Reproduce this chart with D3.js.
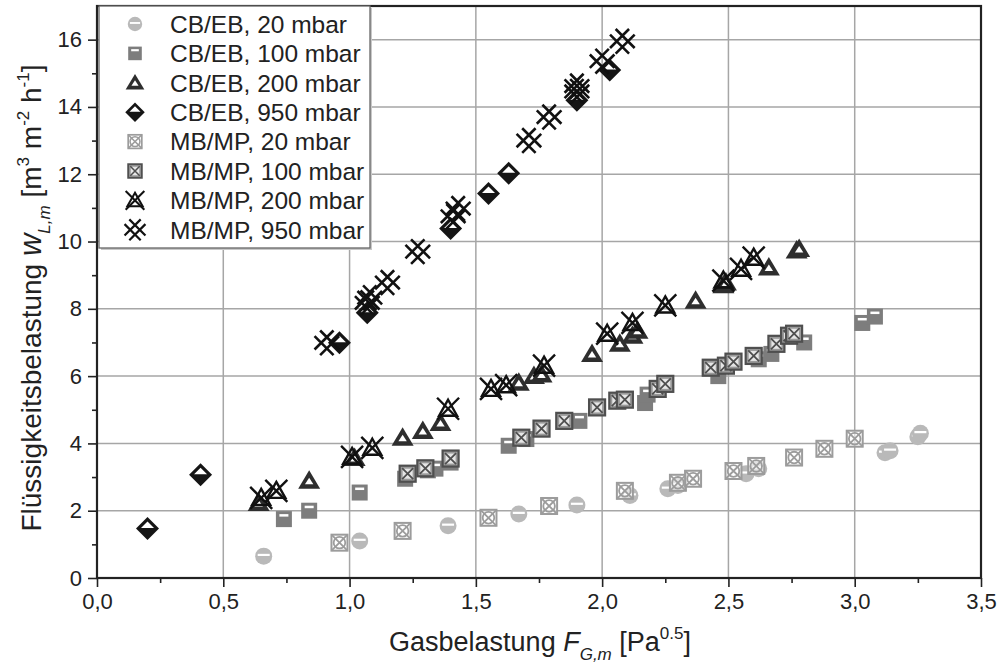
<!DOCTYPE html>
<html>
<head>
<meta charset="utf-8">
<script src="https://cdn.jsdelivr.net/npm/d3@7"></script>
<style>
  html, body { margin: 0; padding: 0; background: #ffffff; }
  svg { display: block; font-family: "Liberation Sans", Arial, sans-serif; }
</style>
</head>
<body>
<svg id="chart" width="998" height="664"></svg>
<script>
// Liquid load vs. gas load, CB/EB and MB/MP packings at four pressures
const xTicks = [0, 0.5, 1.0, 1.5, 2.0, 2.5, 3.0, 3.5];
const yTicks = [0, 2, 4, 6, 8, 10, 12, 14, 16];

const cbeb20X = [0.66, 1.04, 1.39, 1.67, 1.90, 2.11, 2.26, 2.30, 2.57, 2.62, 3.12, 3.14, 3.25, 3.26];
const cbeb20Y = [0.65, 1.10, 1.55, 1.90, 2.17, 2.45, 2.65, 2.75, 3.10, 3.25, 3.72, 3.78, 4.20, 4.30];

const cbeb100X = [0.74, 0.84, 1.04, 1.22, 1.31, 1.34, 1.40, 1.63, 1.70, 1.91, 2.17, 2.18, 2.46, 2.62, 2.67, 2.80, 3.03, 3.08];
const cbeb100Y = [1.75, 2.00, 2.54, 2.95, 3.20, 3.25, 3.43, 3.93, 4.13, 4.67, 5.20, 5.45, 6.00, 6.50, 6.66, 7.00, 7.58, 7.77];

const cbeb200X = [0.64, 0.84, 1.02, 1.21, 1.29, 1.36, 1.67, 1.73, 1.76, 1.96, 2.07, 2.12, 2.14, 2.37, 2.48, 2.49, 2.66, 2.77, 2.78];
const cbeb200Y = [2.23, 2.89, 3.57, 4.17, 4.37, 4.61, 5.80, 6.00, 6.05, 6.66, 6.96, 7.20, 7.35, 8.24, 8.70, 8.78, 9.23, 9.73, 9.78];

const cbeb950X = [0.20, 0.41, 0.96, 1.07, 1.40, 1.55, 1.63, 1.90, 2.03];
const cbeb950Y = [1.47, 3.07, 6.99, 7.88, 10.39, 11.43, 12.03, 14.20, 15.10];

const mbmp20X = [0.96, 1.21, 1.55, 1.79, 2.09, 2.30, 2.36, 2.52, 2.61, 2.76, 2.88, 3.00];
const mbmp20Y = [1.05, 1.40, 1.79, 2.14, 2.59, 2.83, 2.95, 3.18, 3.33, 3.58, 3.84, 4.14];

const mbmp100X = [1.23, 1.30, 1.40, 1.68, 1.76, 1.85, 1.98, 2.06, 2.09, 2.22, 2.25, 2.43, 2.49, 2.52, 2.60, 2.69, 2.74, 2.76];
const mbmp100Y = [3.10, 3.26, 3.55, 4.17, 4.44, 4.67, 5.07, 5.27, 5.30, 5.62, 5.77, 6.25, 6.31, 6.43, 6.60, 6.96, 7.20, 7.26];

const mbmp200X = [0.65, 0.71, 1.01, 1.09, 1.39, 1.56, 1.62, 1.77, 2.02, 2.12, 2.25, 2.48, 2.55, 2.60];
const mbmp200Y = [2.38, 2.59, 3.60, 3.87, 5.03, 5.62, 5.73, 6.31, 7.26, 7.58, 8.10, 8.84, 9.19, 9.52];

const mbmp950X = [0.91, 1.07, 1.08, 1.15, 1.27, 1.41, 1.43, 1.71, 1.79, 1.90, 1.90, 2.00, 2.08];
const mbmp950Y = [6.99, 8.18, 8.33, 8.78, 9.70, 10.75, 10.98, 13.00, 13.70, 14.46, 14.62, 15.36, 15.95];

const seriesNames = [
  "CB/EB, 20 mbar", "CB/EB, 100 mbar", "CB/EB, 200 mbar", "CB/EB, 950 mbar",
  "MB/MP, 20 mbar", "MB/MP, 100 mbar", "MB/MP, 200 mbar", "MB/MP, 950 mbar"
];
const markerKinds = ["circle", "square", "triangle", "diamond", "boxcircle", "boxcross", "xtriangle", "hashx"];

const series = [
  { x: cbeb20X, y: cbeb20Y }, { x: cbeb100X, y: cbeb100Y },
  { x: cbeb200X, y: cbeb200Y }, { x: cbeb950X, y: cbeb950Y },
  { x: mbmp20X, y: mbmp20Y }, { x: mbmp100X, y: mbmp100Y },
  { x: mbmp200X, y: mbmp200Y }, { x: mbmp950X, y: mbmp950Y }
].map((s, i) => ({ name: seriesNames[i], kind: markerKinds[i],
  points: s.x.map((v, j) => [v, s.y[j]]) }));

const margin = { left: 97, right: 17, top: 6, bottom: 86 };
const W = 998, H = 664;
const svg = d3.select("#chart");

const x = d3.scaleLinear().domain([0, 3.5]).range([margin.left, W - margin.right]);
const y = d3.scaleLinear().domain([0, 17]).range([H - margin.bottom, margin.top]);

const fmt = d => d3.format(".1f")(d).replace(".", ",");

// grid
const grid = svg.append("g").attr("stroke", "#a6a6a6").attr("stroke-width", 1.5);
grid.selectAll("line.gx").data(xTicks.slice(1, -1)).join("line")
  .attr("x1", d => x(d)).attr("x2", d => x(d))
  .attr("y1", y(0)).attr("y2", y(17));
grid.selectAll("line.gy").data(yTicks.slice(1)).join("line")
  .attr("x1", x(0)).attr("x2", x(3.5))
  .attr("y1", d => y(d)).attr("y2", d => y(d));

// axes
const xAxis = d3.axisBottom(x).tickValues(xTicks).tickFormat(fmt).tickSize(9).tickPadding(6);
const xMinor = d3.axisBottom(x).tickValues(d3.range(0.25, 3.5, 0.5)).tickFormat("").tickSize(5);
const yAxis = d3.axisLeft(y).tickValues(yTicks).tickFormat(d3.format("d")).tickSize(9).tickPadding(6);
const yMinor = d3.axisLeft(y).tickValues(d3.range(1, 17, 2)).tickFormat("").tickSize(5);

function styleAxis(g) {
  g.select(".domain").remove();
  g.selectAll(".tick line").attr("stroke", "#222").attr("stroke-width", 1.6);
  g.selectAll(".tick text").attr("fill", "#222").attr("font-size", 22)
    .attr("font-family", "Liberation Sans, Arial, sans-serif");
}
svg.append("g").attr("transform", `translate(0,${y(0)})`).call(xAxis).call(styleAxis);
svg.append("g").attr("transform", `translate(0,${y(0)})`).call(xMinor).call(styleAxis);
svg.append("g").attr("transform", `translate(${x(0)},0)`).call(yAxis).call(styleAxis);
svg.append("g").attr("transform", `translate(${x(0)},0)`).call(yMinor).call(styleAxis);

// frame
svg.append("rect").attr("x", x(0)).attr("y", y(17))
  .attr("width", x(3.5) - x(0)).attr("height", y(0) - y(17))
  .attr("fill", "none").attr("stroke", "#222").attr("stroke-width", 2.2);

// marker drawing
function drawMarker(g, kind, s) {
  const k = s || 1;
  switch (kind) {
    case "circle":
      g.append("circle").attr("r", 8.5 * k).attr("fill", "#b9b9b9");
      g.append("line").attr("x1", -6 * k).attr("x2", 6 * k).attr("y1", -1.2 * k).attr("y2", -1.2 * k)
        .attr("stroke", "#fff").attr("stroke-width", 2.2 * k);
      break;
    case "square":
      g.append("rect").attr("x", -8 * k).attr("y", -8 * k).attr("width", 16 * k).attr("height", 16 * k)
        .attr("fill", "#7d7d7d");
      g.append("rect").attr("x", -4.5 * k).attr("y", -5 * k).attr("width", 9 * k).attr("height", 2.5 * k)
        .attr("fill", "#fff");
      break;
    case "triangle":
      g.append("path").attr("d", `M0,${-10.5 * k}L${11 * k},${8 * k}L${-11 * k},${8 * k}Z`).attr("fill", "#2e2e2e");
      g.append("path").attr("d", `M0,${-3 * k}L${4.2 * k},${3.5 * k}L${-4.2 * k},${3.5 * k}Z`).attr("fill", "#fff");
      break;
    case "diamond":
      g.append("path").attr("d", `M0,${-11.5 * k}L${11.5 * k},0L0,${11.5 * k}L${-11.5 * k},0Z`).attr("fill", "#151515");
      g.append("path").attr("d", `M0,${-7 * k}L${6.5 * k},${-0.5 * k}L${-6.5 * k},${-0.5 * k}Z`).attr("fill", "#fff");
      break;
    case "boxcircle": {
      const c = "#9c9c9c";
      g.append("rect").attr("x", -8 * k).attr("y", -8 * k).attr("width", 16 * k).attr("height", 16 * k)
        .attr("fill", "#fff").attr("fill-opacity", 0.6).attr("stroke", c).attr("stroke-width", 2 * k);
      g.append("circle").attr("r", 5.8 * k).attr("fill", "none").attr("stroke", c).attr("stroke-width", 1.8 * k);
      g.append("path").attr("d", `M${-8 * k},${-8 * k}L${8 * k},${8 * k}M${8 * k},${-8 * k}L${-8 * k},${8 * k}`)
        .attr("stroke", c).attr("stroke-width", 1.8 * k);
      break;
    }
    case "boxcross": {
      const c = "#4f4f4f";
      g.append("rect").attr("x", -8 * k).attr("y", -8 * k).attr("width", 16 * k).attr("height", 16 * k)
        .attr("fill", "#9a9a9a").attr("stroke", c).attr("stroke-width", 2.2 * k);
      g.append("rect").attr("x", -5 * k).attr("y", -5 * k).attr("width", 10 * k).attr("height", 10 * k)
        .attr("fill", "#e6e6e6");
      g.append("path").attr("d", `M${-5.5 * k},${-5.5 * k}L${5.5 * k},${5.5 * k}M${5.5 * k},${-5.5 * k}L${-5.5 * k},${5.5 * k}`)
        .attr("stroke", c).attr("stroke-width", 1.8 * k);
      break;
    }
    case "xtriangle":
      g.append("path").attr("d", `M0,${-9 * k}L${9 * k},${7 * k}L${-9 * k},${7 * k}Z`)
        .attr("fill", "none").attr("stroke", "#111").attr("stroke-width", 2.4 * k);
      g.append("path").attr("d", `M${-11 * k},${-11 * k}L${11 * k},${11 * k}M${11 * k},${-11 * k}L${-11 * k},${11 * k}`)
        .attr("stroke", "#111").attr("stroke-width", 2.4 * k);
      break;
    case "hashx": {
      // two strokes along each diagonal, offset sideways, forming a lattice
      const a = 9.5 * k, o = 2.8 * k;
      const d =
        `M${-a + o},${-a - o}L${a + o},${a - o}` +
        `M${-a - o},${-a + o}L${a - o},${a + o}` +
        `M${-a + o},${a + o}L${a + o},${-a + o}` +
        `M${-a - o},${a - o}L${a - o},${-a - o}`;
      g.append("path").attr("d", d).attr("stroke", "#111").attr("stroke-width", 2.6 * k).attr("fill", "none");
      break;
    }
  }
}

// data points
const plot = svg.append("g");
series.forEach(s => {
  plot.selectAll(null).data(s.points).join("g")
    .attr("transform", d => `translate(${x(d[0])},${y(d[1])})`)
    .each(function () { drawMarker(d3.select(this), s.kind, 1); });
});

// legend
const lg = svg.append("g");
lg.append("rect").attr("x", 101).attr("y", 8).attr("width", 271).attr("height", 242).attr("fill", "#c8c8c8");
lg.append("rect").attr("x", 99).attr("y", 6).attr("width", 271).attr("height", 242)
  .attr("fill", "#fff").attr("stroke", "#666").attr("stroke-width", 1.3);
const rowY = i => 24 + i * 29.4;
series.forEach((s, i) => {
  const g = lg.append("g").attr("transform", `translate(135,${rowY(i)})`);
  drawMarker(g, s.kind, 0.85);
  lg.append("text").attr("x", 170).attr("y", rowY(i)).attr("dy", "0.36em")
    .attr("font-size", 24.5).attr("fill", "#222").text(s.name);
});

// axis titles
const xt = svg.append("text").attr("x", 540).attr("y", 651).attr("text-anchor", "middle")
  .attr("font-size", 27).attr("fill", "#222");
xt.append("tspan").text("Gasbelastung ");
xt.append("tspan").attr("font-style", "italic").text("F");
xt.append("tspan").attr("font-style", "italic").attr("font-size", 17).attr("dy", 9).text("G,m");
xt.append("tspan").attr("dy", -9).text(" [Pa");
xt.append("tspan").attr("font-size", 17).attr("dy", -12).text("0.5");
xt.append("tspan").attr("dy", 12).text("]");

const yt = svg.append("text").attr("transform", "translate(41,298) rotate(-90)")
  .attr("text-anchor", "middle").attr("font-size", 28).attr("fill", "#222");
yt.append("tspan").text("Flüssigkeitsbelastung ");
yt.append("tspan").attr("font-style", "italic").attr("font-size", 31).text("w");
yt.append("tspan").attr("font-style", "italic").attr("font-size", 17).attr("dy", 9).text("L,m");
yt.append("tspan").attr("dy", -9).text(" [m");
yt.append("tspan").attr("font-size", 17).attr("dy", -12).text("3");
yt.append("tspan").attr("dy", 12).text(" m");
yt.append("tspan").attr("font-size", 17).attr("dy", -12).text("-2");
yt.append("tspan").attr("dy", 12).text(" h");
yt.append("tspan").attr("font-size", 17).attr("dy", -12).text("-1");
yt.append("tspan").attr("dy", 12).text("]");
</script>
</body>
</html>
